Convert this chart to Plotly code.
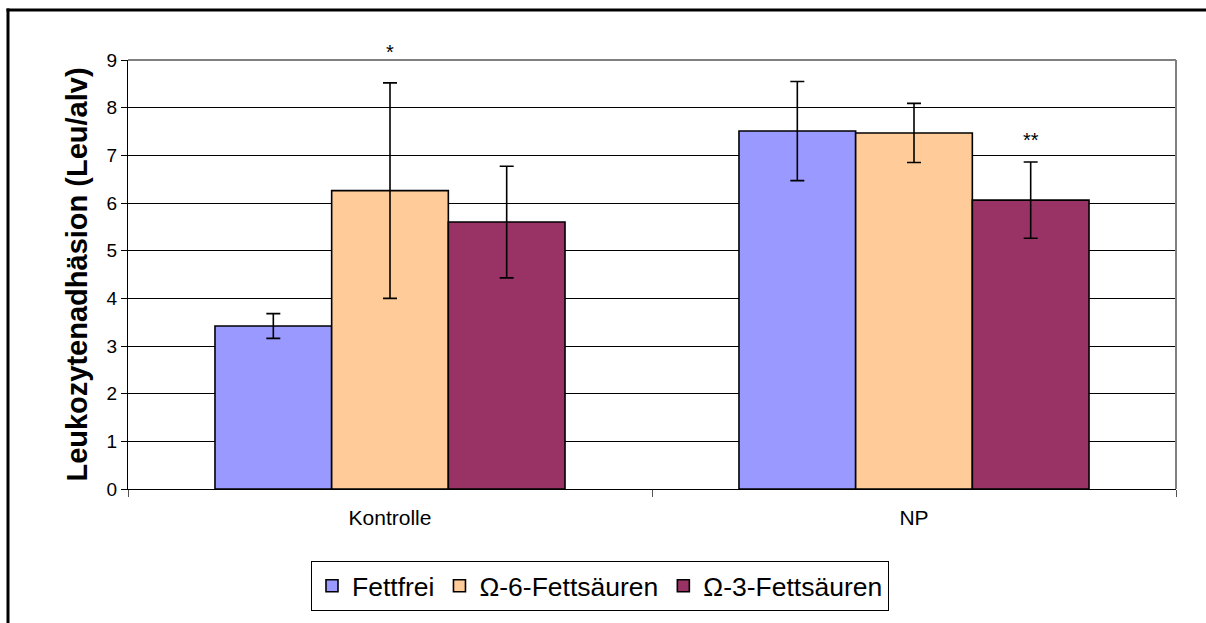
import plotly.graph_objects as go

categories = ["Kontrolle", "NP"]
series_names = ["Fettfrei", "Ω-6-Fettsäuren", "Ω-3-Fettsäuren"]
fettfrei = [3.42, 7.51]
fettfrei_err = [0.26, 1.04]
omega6 = [6.26, 7.47]
omega6_err = [2.26, 0.62]
omega3 = [5.60, 6.06]
omega3_err = [1.17, 0.80]
colors = ["#9999FF", "#FFCC99", "#993366"]
y_ticks = [0, 1, 2, 3, 4, 5, 6, 7, 8, 9]
y_max = 9
y_title = "Leukozytenadhäsion (Leu/alv)"
sig_labels = [("*", 0, 1, 9.45), ("**", 1, 2, 7.6)]  # text, category idx, series idx, y

W, H = 1206, 623
ml, mr, mt, mb = 128, 30, 60, 134
bargap = 0.332

fig = go.Figure()
vals = [fettfrei, omega6, omega3]
errs = [fettfrei_err, omega6_err, omega3_err]
for name, v, e, c in zip(series_names, vals, errs, colors):
    fig.add_trace(go.Bar(
        x=categories, y=v, name=name,
        marker=dict(color=c, line=dict(color="black", width=1.6)),
        error_y=dict(type="data", array=e, visible=True, color="black",
                     thickness=1.6, width=7),
    ))

bw = (1 - bargap) / 3
for txt, ci, si, yv in sig_labels:
    fig.add_annotation(x=ci + (si - 1) * bw, y=yv / y_max, xref="x", yref="paper",
                       text=txt, showarrow=False,
                       font=dict(size=20, color="black", family="Liberation Sans, Arial"))

pw = W - ml - mr
ph = H - mt - mb
def px_x(p):
    return (p - ml) / pw
def px_y(p):
    return (H - mb - p) / ph

# outer frame (top and left edges visible)
fig.add_shape(type="line", xref="paper", yref="paper",
              x0=px_x(6.5), x1=px_x(1206), y0=px_y(10), y1=px_y(10),
              line=dict(color="black", width=3), layer="above")
fig.add_shape(type="line", xref="paper", yref="paper",
              x0=px_x(8), x1=px_x(8), y0=px_y(8.5), y1=px_y(623),
              line=dict(color="black", width=3), layer="above")
# plot area gray top/right border
fig.add_shape(type="line", xref="paper", yref="paper", x0=0, x1=1, y0=1, y1=1,
              line=dict(color="#808080", width=2), layer="above")
fig.add_shape(type="line", xref="paper", yref="paper", x0=1, x1=1, y0=0, y1=1,
              line=dict(color="#808080", width=2), layer="above")

fig.update_layout(
    width=W, height=H,
    margin=dict(l=ml, r=mr, t=mt, b=mb, autoexpand=False),
    paper_bgcolor="white", plot_bgcolor="white",
    barmode="group", bargap=bargap, bargroupgap=0,
    font=dict(family="Liberation Sans, Arial", color="black"),
    showlegend=True,
    legend=dict(orientation="h", x=px_x(600), xanchor="center",
                y=px_y(586), yanchor="middle",
                bordercolor="black", borderwidth=1,
                font=dict(size=26.5, family="Liberation Sans, Arial"),
                itemwidth=30, tracegroupgap=0),
    xaxis=dict(showline=True, linecolor="black", linewidth=1,
               ticks="outside", tickson="boundaries", ticklen=7,
               tickcolor="#555555", ticklabelstandoff=10,
               tickfont=dict(size=21), showgrid=False),
    yaxis=dict(range=[0, y_max], tickvals=y_ticks, showline=True,
               linecolor="black", linewidth=1, ticks="outside", ticklen=6,
               tickcolor="black", tickfont=dict(size=19),
               showgrid=True, gridcolor="black", gridwidth=1,
               zeroline=False,
               title=dict(text="<b>" + y_title + "</b>",
                          font=dict(size=29), standoff=10)),
)

fig.write_html("out.html", config={"displayModeBar": False},
               post_script="document.body.style.margin='0px';document.body.style.overflow='hidden';")
